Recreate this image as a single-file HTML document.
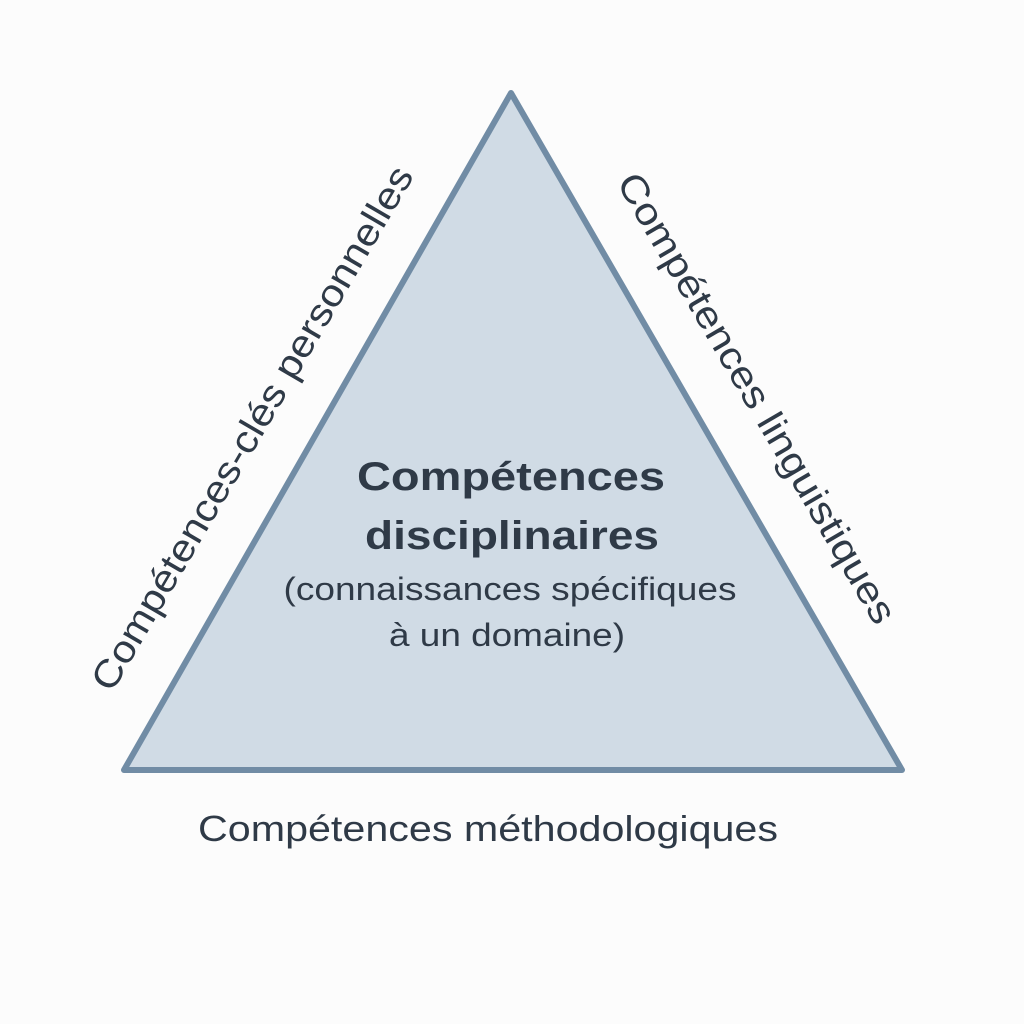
<!DOCTYPE html>
<html><head><meta charset="utf-8"><style>
html,body{margin:0;padding:0;background:#fcfcfc;}
svg{display:block}
text{font-family:"Liberation Sans","DejaVu Sans",sans-serif;fill:#2f3a47;}
</style></head><body>
<svg width="1024" height="1024" viewBox="0 0 1024 1024">
<rect width="1024" height="1024" fill="#fcfcfc"/>
<polygon points="511,93 124,770 902,770" fill="#d0dbe5" stroke="#718ca5" stroke-width="6" stroke-linejoin="round"/>
<text x="0" y="0" font-size="38" text-anchor="middle" textLength="600" lengthAdjust="spacingAndGlyphs" transform="translate(252,428) rotate(-59.7) translate(0,13)">Compétences-clés personnelles</text>
<text x="0" y="0" font-size="38" text-anchor="middle" textLength="515" lengthAdjust="spacingAndGlyphs" transform="translate(757,398) rotate(59.7) translate(0,13)">Compétences linguistiques</text>
<text x="488" y="841" font-size="36" text-anchor="middle" textLength="580" lengthAdjust="spacingAndGlyphs">Compétences méthodologiques</text>
<text x="511" y="490" font-size="40" font-weight="600" text-anchor="middle" textLength="308" lengthAdjust="spacingAndGlyphs" fill="#3a4655">Compétences</text>
<text x="512" y="549" font-size="40" font-weight="600" text-anchor="middle" textLength="294" lengthAdjust="spacingAndGlyphs" fill="#3a4655">disciplinaires</text>
<text x="510" y="600" font-size="32" text-anchor="middle" textLength="453" lengthAdjust="spacingAndGlyphs" fill="#3d4652">(connaissances spécifiques</text>
<text x="507" y="646" font-size="32" text-anchor="middle" textLength="236" lengthAdjust="spacingAndGlyphs" fill="#3d4652">à un domaine)</text>
</svg>
</body></html>
